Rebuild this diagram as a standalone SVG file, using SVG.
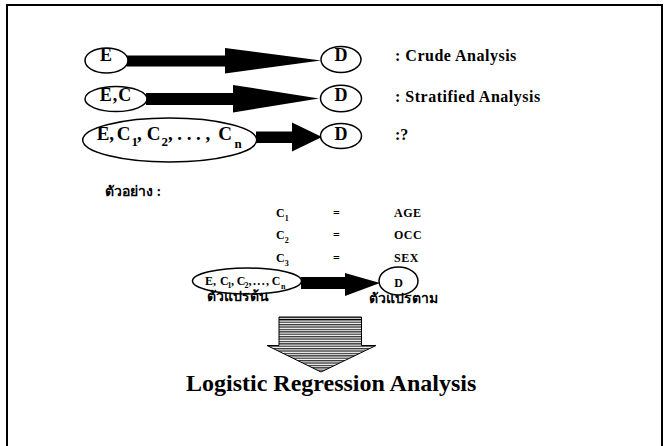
<svg xmlns="http://www.w3.org/2000/svg" width="668" height="446" viewBox="0 0 668 446">
<style>
.n{fill:#fff;stroke:#000;stroke-width:1.5}
.t{font-family:"Liberation Serif","Times New Roman",serif;font-weight:bold;fill:#000}
.th{font-family:"Liberation Serif","Noto Sans","DejaVu Sans",sans-serif;font-weight:bold;fill:#000}
.a{fill:#000}
</style>
<defs>
<pattern id="stripes" width="4" height="2.4" patternUnits="userSpaceOnUse">
<rect width="4" height="2.4" fill="#fff"/>
<rect width="4" height="1.3" fill="#333"/>
</pattern>
</defs>
<rect x="7" y="5" width="655" height="460" fill="none" stroke="#000" stroke-width="2"/>
<g id="connectors">
<polygon class="a" points="127,55.5 225,55.5 225,48 321,60.5 225,73.5 225,66.5 127,66.5"/>
<polygon class="a" points="146,93 233,93 233,85 319,98.5 233,112.5 233,105 146,105"/>
<polygon class="a" points="256,131.5 292,131.5 292,122.5 322,137 292,151.5 292,143 256,143"/>
<polygon class="a" points="301,277 345,277 345,273 380,283 345,296 345,289 301,289"/>
</g>
<g id="n-e1">
<ellipse class="n" cx="106.5" cy="60.5" rx="21.5" ry="12.5"/>
<text class="t" x="106" y="60.5" font-size="18" text-anchor="middle">E</text>
</g>
<g id="n-d1">
<ellipse class="n" cx="341" cy="59.5" rx="20" ry="13"/>
<text class="t" x="341" y="60.5" font-size="18" text-anchor="middle">D</text>
</g>
<text class="t" x="395" y="61" font-size="16" letter-spacing="0.5">: Crude Analysis</text>
<g id="n-ec">
<ellipse class="n" cx="116" cy="99" rx="31" ry="12.5"/>
<text class="t" x="116" y="100.5" font-size="18" letter-spacing="1" text-anchor="middle">E,C</text>
</g>
<g id="n-d2">
<ellipse class="n" cx="341" cy="98.5" rx="20.5" ry="13.3"/>
<text class="t" x="341" y="100.5" font-size="18" text-anchor="middle">D</text>
</g>
<text class="t" x="395" y="101.5" font-size="16" letter-spacing="0.5">: Stratified Analysis</text>
<g id="n-ecn">
<ellipse class="n" cx="169.7" cy="140" rx="87" ry="22"/>
<text class="t" font-size="19" y="139.5"><tspan x="96.7">E,</tspan><tspan x="116.7">C</tspan><tspan x="131.5" dy="6" font-size="13">1</tspan><tspan x="137" dy="-6">,</tspan><tspan x="146.7">C</tspan><tspan x="161.5" dy="6" font-size="13">2</tspan><tspan x="168" dy="-6" letter-spacing="4.6">,...,</tspan><tspan x="218.3">C</tspan><tspan x="234.5" dy="8" font-size="13">n</tspan></text>
</g>
<g id="n-d3">
<ellipse class="n" cx="341" cy="136" rx="20.5" ry="12.5"/>
<text class="t" x="341" y="140" font-size="18" text-anchor="middle">D</text>
</g>
<text class="t" x="395" y="140" font-size="16">:?</text>
<text class="th" x="105" y="196" font-size="14">ตัวอย่าง :</text>
<g id="defs-list" class="t" font-size="12">
<text x="276" y="216.5">C<tspan font-size="8" dy="4">1</tspan></text>
<text x="333" y="216.5">=</text>
<text x="394" y="216.5" letter-spacing="0.5">AGE</text>
<text x="276" y="238.5">C<tspan font-size="8" dy="4">2</tspan></text>
<text x="333" y="238.5">=</text>
<text x="394" y="238.5" letter-spacing="0.5">OCC</text>
<text x="276" y="261.5">C<tspan font-size="8" dy="4">3</tspan></text>
<text x="333" y="261.5">=</text>
<text x="394" y="261.5" letter-spacing="0.5">SEX</text>
</g>
<g id="n-x">
<ellipse class="n" cx="247" cy="281" rx="54.5" ry="13"/>
<text class="t" font-size="12" y="285"><tspan x="205">E,</tspan><tspan x="220">C</tspan><tspan x="227.5" dy="3" font-size="8">1</tspan><tspan x="231" dy="-3">,</tspan><tspan x="236.7">C</tspan><tspan x="244.5" dy="3" font-size="8">2</tspan><tspan x="248.5" dy="-3" letter-spacing="1.4">,...,</tspan><tspan x="271.7">C</tspan><tspan x="281" dy="4" font-size="8">n</tspan></text>
<text class="th" x="206.5" y="301" font-size="14">ตัวแปรต้น</text>
</g>
<g id="n-y">
<ellipse class="n" cx="398.5" cy="281" rx="19.5" ry="14"/>
<text class="t" x="398.5" y="286.5" font-size="12" text-anchor="middle">D</text>
<text class="th" x="369" y="302.5" font-size="14">ตัวแปรตาม</text>
</g>
<g id="big-arrow">
<polygon points="279,317 361.5,317 361.5,345.5 376,345.5 321,372 267,345.5 279,345.5" fill="url(#stripes)" stroke="#000" stroke-width="1"/>
<line x1="279" y1="319.5" x2="361.5" y2="319.5" stroke="#000" stroke-width="1"/>
</g>
<text class="t" x="186" y="391" font-size="24">Logistic Regression Analysis</text>
</svg>
